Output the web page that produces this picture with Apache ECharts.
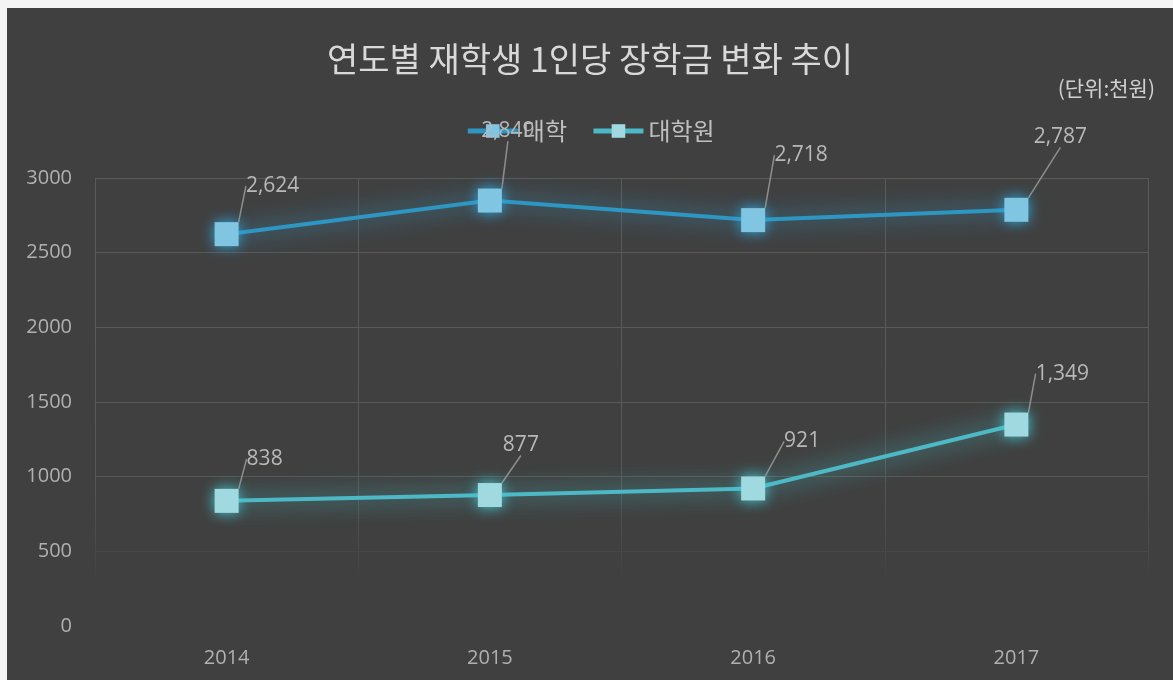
<!DOCTYPE html>
<html><head><meta charset="utf-8">
<script src="https://cdn.jsdelivr.net/npm/echarts@6/dist/echarts.min.js"></script>
<style>
html,body{margin:0;padding:0;background:#dcdcdc;}
#wrap{position:relative;width:1173px;height:680px;overflow:hidden;background:#f4f4f4;}
#c{position:absolute;left:7px;top:8px;width:1166px;height:672px;}
</style></head>
<body><div id="wrap"><div id="c"></div></div>
<script>
var categories = ['2014', '2015', '2016', '2017'];
var univ = [2624, 2849, 2718, 2787];
var grad = [838, 877, 921, 1349];
var seriesNames = ['대학', '대학원'];
var titleText = '연도별 재학생 1인당 장학금 변화 추이';
var unitText = '(단위:천원)';

// label offsets (style only)
var univOffsets = [[46, -48], [18, -70], [48, -65], [44, -73]];
var gradOffsets = [[38, -42], [31, -50], [49, -47], [46, -51]];

var chart = echarts.init(document.getElementById('c'));
var gridColor = new echarts.graphic.LinearGradient(0, 170, 0, 618, [
  {offset: 0, color: '#5a5a5a'},
  {offset: 0.66, color: '#585858'},
  {offset: 0.82, color: '#4a4a4a'},
  {offset: 0.9, color: '#404040'},
  {offset: 1, color: '#404040'}
], true);
var fmt = function (p) { return p.value.toLocaleString('en-US'); };
function mkSeries(name, data, offs, lineColor, markColor, glow) {
  return {
    name: name, type: 'line', data: data,
    symbol: 'rect', symbolSize: 24,
    lineStyle: {color: lineColor, width: 4, shadowColor: glow, shadowBlur: 22},
    itemStyle: {color: markColor, shadowColor: glow, shadowBlur: 14},
    label: {show: true, position: 'inside', formatter: fmt, color: '#b8b8b8',
      fontSize: 21, fontFamily: 'Open Sans, Noto Sans, sans-serif'},
    labelLayout: function (p) { var o = offs[p.dataIndex]; return {dx: o[0], dy: o[1]}; },
    labelLine: {show: true, lineStyle: {color: '#8e8e8e', width: 1.5}},
    emphasis: {disabled: true},
    zlevel: 1,
    z: 6
  };
}
chart.setOption({
  backgroundColor: '#404040',
  animation: false,
  title: {text: titleText, left: 'center', top: 29,
    textStyle: {color: '#d9d9d9', fontSize: 34, fontWeight: 'normal',
      fontFamily: 'Noto Sans CJK KR, sans-serif'}},
  legend: {data: seriesNames, top: 106, left: 'center', itemWidth: 50, itemHeight: 17,
    itemGap: 24, lineStyle: {width: 5}, z: 1,
    textStyle: {color: '#bfbfbf', fontSize: 24, fontFamily: 'Noto Sans CJK KR, sans-serif'}},
  graphic: [{type: 'text', right: 18, top: 70,
    style: {text: unitText, fill: '#d0d0d0', fontSize: 21, fontFamily: 'Noto Sans CJK KR, sans-serif'}}],
  grid: {left: 88, right: 25, top: 170, bottom: 54},
  xAxis: {type: 'category', data: categories, boundaryGap: true,
    axisLine: {show: false}, axisTick: {show: false},
    axisLabel: {color: '#b0b0b0', fontSize: 20, margin: 22, fontFamily: 'Open Sans, Noto Sans, sans-serif'},
    splitLine: {show: true, lineStyle: {color: gridColor, width: 1}}},
  yAxis: {type: 'value', min: 0, max: 3000, interval: 500,
    axisLine: {show: false}, axisTick: {show: false},
    axisLabel: {color: '#b0b0b0', fontSize: 20, margin: 23, formatter: function (v) { return String(v); },
      fontFamily: 'Open Sans, Noto Sans, sans-serif'},
    splitLine: {show: true, lineStyle: {color: gridColor, width: 1}}},
  series: [
    mkSeries(seriesNames[0], univ, univOffsets, '#2e96c2', '#80c5e2', 'rgba(50,170,225,1)'),
    mkSeries(seriesNames[1], grad, gradOffsets, '#4db9c7', '#a0d9e0', 'rgba(70,205,215,1)')
  ]
});
</script></body></html>
